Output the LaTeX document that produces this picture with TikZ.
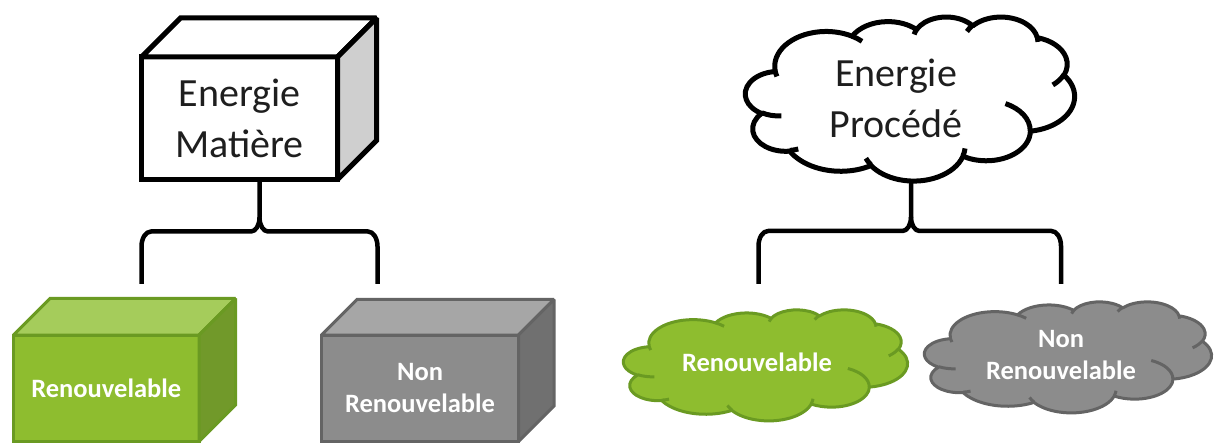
\documentclass[tikz,border=0pt]{standalone}
\usepackage{fontspec}
\setmainfont{Carlito}
\definecolor{gfront}{HTML}{8EBD2F}
\definecolor{gtop}{HTML}{A5CC5B}
\definecolor{gside}{HTML}{71992A}
\definecolor{gline}{HTML}{6A9A22}
\definecolor{kfront}{HTML}{8C8C8C}
\definecolor{ktop}{HTML}{A6A6A6}
\definecolor{kside}{HTML}{707070}
\definecolor{kline}{HTML}{646464}
\definecolor{wside}{HTML}{CFCFCF}
\definecolor{txt}{HTML}{1E1E1E}

% OOXML-style arcTo: wR hR stAng swAng (visual angles, degrees)
\newcommand\ooarc[4]{%
  \pgfextra{%
    \pgfmathsetmacro\ooS{atan2((#1)*sin(#3),(#2)*cos(#3))}%
    \pgfmathsetmacro\ooE{atan2((#1)*sin((#3)+(#4)),(#2)*cos((#3)+(#4)))}%
    \pgfmathsetmacro\ooE{(\ooE)+360*round(((\ooS)+(#4)-(\ooE))/360)}%
    \xdef\ooSg{\ooS}\xdef\ooEg{\ooE}%
  }%
  arc[start angle=\ooSg,end angle=\ooEg,x radius=#1,y radius=#2]%
}
% PowerPoint cloud, drawn in a 432 x 432 box
\newcommand\ppcloud[2]{%
  \path[#1] (39,143.7) \ooarc{67.53}{91.90}{-190.48748}{123.78053}
    \ooarc{53.33}{72.67}{-144.10238}{89.94523}
    \ooarc{43.65}{59.45}{-145.80792}{99.72302}
    \ooarc{48.57}{65.95}{-130.98607}{117.24173}
    \ooarc{53.33}{72.73}{-78.70888}{109.02692}
    \ooarc{67.75}{92.20}{-46.26725}{130.269}
    \ooarc{57.85}{78.67}{0.62502}{114.03333}
    \ooarc{67.52}{92.15}{22.4516}{115.17255}
    \ooarc{77.20}{105.43}{66.24263}{75.71102}
    \ooarc{43.60}{59.18}{-274.94208}{146.73557}
    \ooarc{43.45}{59.45}{-246.8285}{152.51885} -- cycle;
  \path[#2] (46.93,261.77) \ooarc{43.45}{59.45}{86.742}{26.4295}
    (69.28,348.99) \ooarc{43.60}{59.18}{73.61047}{11.44747}
    (164.78,390.90) \ooarc{67.52}{92.15}{137.62415}{14.0811}
    (288.27,347.51) \ooarc{67.52}{92.15}{6.45327}{15.99835}
    (341.29,229.54) \ooarc{57.85}{78.67}{-70.29235}{70.91737}
    (417.98,153.54) \ooarc{53.33}{72.73}{30.31803}{27.7515}
    (383.24,54.26) \ooarc{48.57}{65.95}{-13.74433}{14.8589}
    (290.78,39.52) \ooarc{48.57}{65.95}{-149.18145}{18.19537}
    (221.41,47.20) \ooarc{43.65}{59.45}{-163.49427}{17.68635}
    (140.00,51.92) \ooarc{67.53}{91.90}{-66.70695}{12.31935}
    (41.27,157.89) \ooarc{67.53}{91.90}{157.65435}{11.85817};
}

\begin{document}
\begin{tikzpicture}[x=1pt,y=-1pt,line join=miter,miter limit=2,
  face/.style={inner sep=0pt,outer sep=0pt},
  bigtext/.style={font=\fontsize{40}{51}\selectfont,align=center,text=txt},
  smalltext/.style={font=\bfseries\fontsize{26.5}{32}\selectfont,align=center,text=white},
  blackline/.style={draw=black,line width=5pt},
  greenline/.style={draw=gline,line width=3pt},
  grayline/.style={draw=kline,line width=3pt},
  cloudline/.style={line join=round},
  bracket/.style={draw=black,line width=4.5pt,line cap=butt,line join=round}]
\fill[white] (0,0) rectangle (1214,443);
\useasboundingbox (0,0) rectangle (1214,443);

% ---- Energie Matiere cube
\node[face,blackline,fill=white,minimum width=196pt,minimum height=122.5pt,bigtext] (mat) at (239.5,118.25) {Energie\\Matière};
\draw[blackline,fill=white] (mat.north west) -- ++(39,-39) -- ++(196,0) -- (mat.north east) -- cycle;
\draw[blackline,fill=wside] (mat.north east) -- ++(39,-39) -- ++(0,122.5) -- (mat.south east) -- cycle;

% ---- green cube
\node[face,greenline,fill=gfront,minimum width=185.5pt,minimum height=106.5pt,smalltext] (gbox) at (106.25,388.25) {Renouvelable};
\draw[greenline,fill=gtop] (gbox.north west) -- ++(36.5,-36.5) -- ++(185.5,0) -- (gbox.north east) -- cycle;
\draw[greenline,fill=gside] (gbox.north east) -- ++(36.5,-36.5) -- ++(0,106.5) -- (gbox.south east) -- cycle;

% ---- gray cube
\node[face,grayline,fill=kfront,minimum width=197pt,minimum height=106.5pt,smalltext] (kbox) at (420,388.25) {Non\\Renouvelable};
\draw[grayline,fill=ktop] (kbox.north west) -- ++(35.5,-35.5) -- ++(197,0) -- (kbox.north east) -- cycle;
\draw[grayline,fill=kside] (kbox.north east) -- ++(35.5,-35.5) -- ++(0,106.5) -- (kbox.south east) -- cycle;

% ---- Energie Procede cloud
\node[face,minimum width=329pt,minimum height=164pt] (proc) at (910,98.5) {};
\begin{scope}[shift={(proc.north west)},xscale=329/432,yscale=164/432,cloudline]
  \ppcloud{blackline,fill=white}{blackline}
\end{scope}
\node[bigtext] (proct) at (896,98) {Energie\\Procédé};

% ---- green cloud
\node[face,minimum width=284pt,minimum height=111pt] (gcl) at (765.5,365) {};
\begin{scope}[shift={(gcl.north west)},xscale=284/432,yscale=111/432,cloudline]
  \ppcloud{greenline,fill=gfront}{greenline}
\end{scope}
\node[smalltext] (gclt) at (757,362) {Renouvelable};

% ---- gray cloud
\node[face,minimum width=287pt,minimum height=111pt] (kcl) at (1068,357) {};
\begin{scope}[shift={(kcl.north west)},xscale=287/432,yscale=111/432,cloudline]
  \ppcloud{grayline,fill=kfront}{grayline}
\end{scope}
\node[smalltext,text depth=0pt] (kclt) at (1061,355) {Non\\Renouvelable};

% ---- brackets
\coordinate (mtip) at (259.5,180);
\coordinate (mjoin) at (259.5,217.5);
\coordinate (mleft) at (141.5,284);
\coordinate (mright) at (377.5,284);
\draw[bracket] (mtip) -- (mjoin) arc[start angle=0,end angle=90,x radius=8.5,y radius=14]
  -- (151,231.5) arc[start angle=270,end angle=180,x radius=9.5,y radius=15] -- (mleft);
\draw[bracket] (mjoin) arc[start angle=180,end angle=90,x radius=8.5,y radius=14]
  -- (368,231.5) arc[start angle=270,end angle=360,x radius=9.5,y radius=15] -- (mright);

\coordinate (ptip) at (911,181);
\coordinate (pjoin) at (911,217);
\coordinate (pleft) at (758.5,284);
\coordinate (pright) at (1061,284);
\draw[bracket] (ptip) -- (pjoin) arc[start angle=0,end angle=90,x radius=8.5,y radius=14]
  -- (768,231) arc[start angle=270,end angle=180,x radius=9.5,y radius=15] -- (pleft);
\draw[bracket] (pjoin) arc[start angle=180,end angle=90,x radius=8.5,y radius=14]
  -- (1051.5,231) arc[start angle=270,end angle=360,x radius=9.5,y radius=15] -- (pright);
\end{tikzpicture}
\end{document}
